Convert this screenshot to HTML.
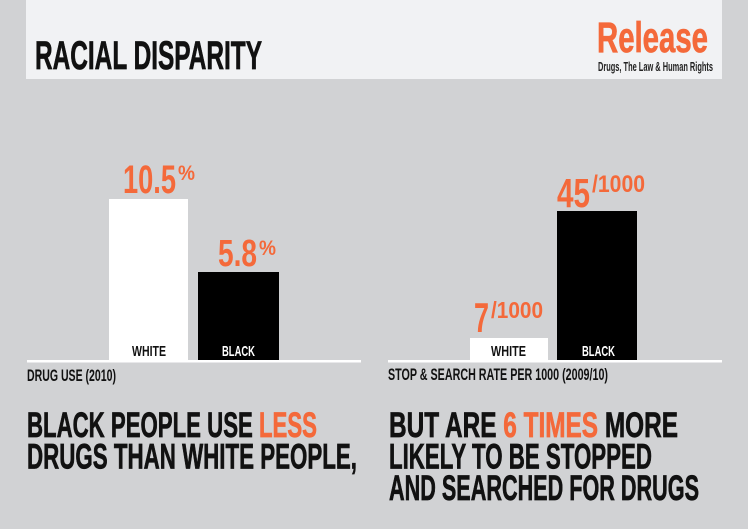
<!DOCTYPE html>
<html>
<head>
<meta charset="utf-8">
<style>
html,body{margin:0;padding:0;background:#d1d2d4;}
svg{display:block;}
text{font-family:"Liberation Sans Narrow","Liberation Sans",sans-serif;font-weight:bold;}
.hv{stroke-width:0.7;paint-order:stroke;}
</style>
</head>
<body>
<svg width="748" height="529" viewBox="0 0 748 529" xmlns="http://www.w3.org/2000/svg">
  <rect x="0" y="0" width="748" height="529" fill="#d1d2d4"/>
  <!-- header panel -->
  <rect x="26" y="0" width="696" height="79" fill="#f1f2f4"/>
  <text class="hv" x="35" y="69" font-size="40" fill="#111" stroke="#111" textLength="227" lengthAdjust="spacingAndGlyphs">RACIAL DISPARITY</text>
  <text class="hv" x="597" y="52" font-size="43" fill="#f4693a" stroke="#f4693a" textLength="111" lengthAdjust="spacingAndGlyphs">Release</text>
  <text x="598" y="71" font-size="12.5" fill="#222" textLength="115" lengthAdjust="spacingAndGlyphs">Drugs, The Law &amp; Human Rights</text>

  <!-- left chart -->
  <rect x="109" y="199" width="79" height="162" fill="#ffffff"/>
  <rect x="198" y="272" width="81" height="89" fill="#000000"/>
  <rect x="27" y="360" width="334" height="2.5" fill="#ffffff"/>
  <text x="123" y="193" font-size="40" fill="#f4693a" textLength="53" lengthAdjust="spacingAndGlyphs">10.5</text>
  <text x="178" y="180" font-size="21" fill="#f4693a" textLength="17" lengthAdjust="spacingAndGlyphs">%</text>
  <text x="218" y="266" font-size="38" fill="#f4693a" textLength="39" lengthAdjust="spacingAndGlyphs">5.8</text>
  <text x="259" y="255" font-size="21" fill="#f4693a" textLength="17" lengthAdjust="spacingAndGlyphs">%</text>
  <text x="132" y="356" font-size="15" fill="#111" textLength="34" lengthAdjust="spacingAndGlyphs">WHITE</text>
  <text x="222" y="356" font-size="15" fill="#fff" textLength="33" lengthAdjust="spacingAndGlyphs">BLACK</text>
  <text x="27" y="381" font-size="17" fill="#111" textLength="89" lengthAdjust="spacingAndGlyphs">DRUG USE (2010)</text>

  <!-- right chart -->
  <rect x="470" y="338" width="78" height="23" fill="#ffffff"/>
  <rect x="557" y="211" width="80" height="150" fill="#000000"/>
  <rect x="388" y="360" width="334" height="2.5" fill="#ffffff"/>
  <text x="474" y="332" font-size="42" fill="#f4693a" textLength="15" lengthAdjust="spacingAndGlyphs">7</text>
  <text x="491" y="318" font-size="23" fill="#f4693a" textLength="52" lengthAdjust="spacingAndGlyphs">/1000</text>
  <text x="557" y="207" font-size="41" fill="#f4693a" textLength="33" lengthAdjust="spacingAndGlyphs">45</text>
  <text x="592" y="192" font-size="24" fill="#f4693a" textLength="53" lengthAdjust="spacingAndGlyphs">/1000</text>
  <text x="491" y="356" font-size="15" fill="#111" textLength="35" lengthAdjust="spacingAndGlyphs">WHITE</text>
  <text x="582" y="356" font-size="15" fill="#fff" textLength="33" lengthAdjust="spacingAndGlyphs">BLACK</text>
  <text x="388" y="380" font-size="17" fill="#111" textLength="220" lengthAdjust="spacingAndGlyphs">STOP &amp; SEARCH RATE PER 1000 (2009/10)</text>

  <!-- bottom statements -->
  <text class="hv" x="27" y="437" font-size="35" fill="#111" stroke="#111" textLength="290" lengthAdjust="spacingAndGlyphs">BLACK PEOPLE USE <tspan fill="#f4693a" stroke="#f4693a">LESS</tspan></text>
  <text class="hv" x="27" y="468.5" font-size="35" fill="#111" stroke="#111" textLength="330" lengthAdjust="spacingAndGlyphs">DRUGS THAN WHITE PEOPLE,</text>

  <text class="hv" x="389" y="437" font-size="35" fill="#111" stroke="#111" textLength="289" lengthAdjust="spacingAndGlyphs">BUT ARE <tspan fill="#f4693a" stroke="#f4693a">6 TIMES</tspan> MORE</text>
  <text class="hv" x="389" y="468.5" font-size="35" fill="#111" stroke="#111" textLength="263" lengthAdjust="spacingAndGlyphs">LIKELY TO BE STOPPED</text>
  <text class="hv" x="389" y="500" font-size="35" fill="#111" stroke="#111" textLength="310" lengthAdjust="spacingAndGlyphs">AND SEARCHED FOR DRUGS</text>
</svg>
</body>
</html>
